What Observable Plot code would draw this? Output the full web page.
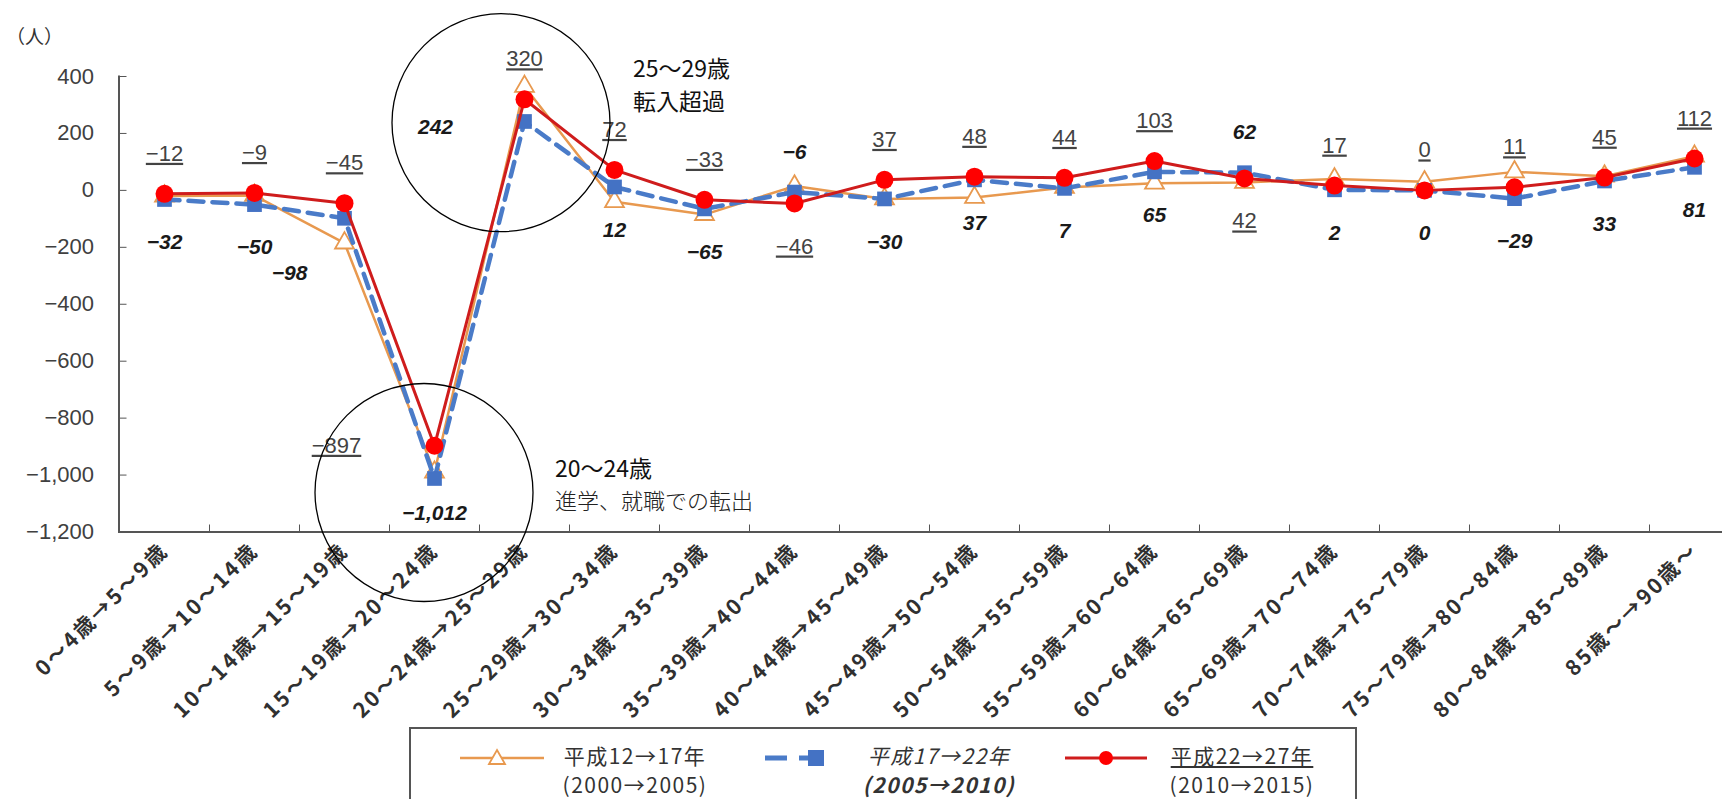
<!DOCTYPE html>
<html><head><meta charset="utf-8">
<script src="https://cdn.jsdelivr.net/npm/d3@7"></script>
<script src="https://cdn.jsdelivr.net/npm/@observablehq/plot@0.6"></script>
<style>
html,body{margin:0;padding:0;background:#fff;overflow:hidden;width:1722px;height:799px;}
#wrap{position:relative;width:1722px;height:799px;}
#unit{position:absolute;left:6px;top:22px;font:19px "Noto Sans CJK JP",sans-serif;color:#333;}
#legend{position:absolute;left:409px;top:727px;width:948px;height:110px;border:2px solid #555;box-sizing:border-box;font-family:"Noto Sans CJK JP",sans-serif;font-size:21px;color:#333;}
#legend .sw{position:absolute;top:14px;}
#legend .tx{position:absolute;top:12px;text-align:center;line-height:29px;letter-spacing:1.5px;white-space:nowrap;}
</style></head>
<body><div id="wrap"><div id="chart"></div><div id="unit">（人）</div>
<div id="legend">
  <svg class="sw" style="left:47px" width="88" height="30"><line x1="2" x2="86" y1="15" y2="15" stroke="#E8994F" stroke-width="2.5"/><polygon points="39,7 47,21 31,21" fill="#fff" stroke="#E8994F" stroke-width="1.8"/></svg>
  <div class="tx" style="left:134px;width:180px;"><div>平成12→17年</div><div>(2000→2005)</div></div>
  <svg class="sw" style="left:354px" width="74" height="30"><line x1="0" x2="60" y1="15" y2="15" stroke="#4A7BC8" stroke-width="5" stroke-dasharray="22,12"/><rect x="43" y="7" width="16" height="16" fill="#4472C4"/></svg>
  <div class="tx" style="left:438px;width:180px;font-style:italic;"><div>平成17→22年</div><div style="font-weight:bold">(2005→2010)</div></div>
  <svg class="sw" style="left:654px" width="84" height="30"><line x1="0" x2="82" y1="15" y2="15" stroke="#CF1C1C" stroke-width="3"/><circle cx="41" cy="15" r="7" fill="#FF0000"/></svg>
  <div class="tx" style="left:741px;width:180px;"><div style="text-decoration:underline">平成22→27年</div><div>(2010→2015)</div></div>
</div></div>
<script>
const categories = ["0～4歳→5～9歳","5～9歳→10～14歳","10～14歳→15～19歳","15～19歳→20～24歳","20～24歳→25～29歳","25～29歳→30～34歳","30～34歳→35～39歳","35～39歳→40～44歳","40～44歳→45～49歳","45～49歳→50～54歳","50～54歳→55～59歳","55～59歳→60～64歳","60～64歳→65～69歳","65～69歳→70～74歳","70～74歳→75～79歳","75～79歳→80～84歳","80～84歳→85～89歳","85歳～→90歳～"];
const s2000 = [-20,-18,-185,-990,365,-40,-85,15,-30,-25,10,25,28,40,30,65,50,120];
const s2005 = [-32,-50,-98,-1012,242,12,-65,-6,-30,37,7,65,62,2,0,-29,33,81];
const s2010 = [-12,-9,-45,-897,320,72,-33,-46,37,48,44,103,42,17,0,11,45,112];
const yTicks = [400,200,0,-200,-400,-600,-800,-1000,-1200];
const pos2005 = ["b","b","bl","b2","l2","b","b","a","b","b","b","b","a","b","b","b","b","b"];
const pos2010 = ["a","a","a","l","a","a","a","b","a","a","a","a","b","a","a","a","a","a"];

const rows = vals => vals.map((v,i)=>({cat: categories[i], v, i}));
const A = rows(s2000), B = rows(s2005), C = rows(s2010);
const fmt = d3.format(",");
const offsets = {a:[0,-40], b:[0,43], l:[-98,0], bl:[-55,55], b2:[0,35], l2:[-89,6]};
function labelMarks(data, posArr, opts) {
  return Object.keys(offsets).map(k => Plot.text(data.filter(d=>posArr[d.i]===k),
    {x:"cat", y:"v", text: d=>fmt(d.v), dx: offsets[k][0], dy: offsets[k][1], ...opts}));
}
const orange = "#E8994F", blue = "#4A7BC8", red = "#CF1C1C";
const step = 90, x0 = 163.5;
const chart = Plot.plot({
  width: 1722, height: 727,
  marginLeft: 118.5, marginRight: 0, marginTop: 76, marginBottom: 195.5,
  x: {type: "point", domain: categories, range: [x0, x0 + step*(categories.length-1)], padding: 0, axis: null},
  y: {domain: [-1200, 400], axis: null},
  style: {fontFamily: "'Liberation Sans', Arial, sans-serif", background: "white", overflow: "visible"},
  marks: [
    Plot.axisY({ticks: yTicks, label: null, tickSize: -8, tickPadding: 33, tickFormat: fmt, fontSize: 22, fill: "#404040", stroke: "#555"}),
    Plot.axisX({ticks: categories, label: null, tickSize: -7, tickFormat: () => "", dx: -step/2, stroke: "#555"}),
    Plot.frame({anchor: "left", stroke: "#555", strokeWidth: 2}),
    Plot.frame({anchor: "bottom", stroke: "#555", strokeWidth: 2}),
    Plot.text(categories, {x: d=>d, frameAnchor: "bottom", rotate: -45, textAnchor: "end", dx: 5, dy: 20, fontSize: 21, fontWeight: "bold", fill: "#303030", fontFamily: "'Noto Sans CJK JP', sans-serif"}),
    Plot.line(A, {x:"cat", y:"v", stroke: orange, strokeWidth: 2.5}),
    Plot.dot(A, {x:"cat", y:"v", symbol: "triangle", r: 7, stroke: orange, fill: "white", strokeWidth: 1.8}),
    Plot.line(B, {x:"cat", y:"v", stroke: blue, strokeWidth: 4.5, strokeDasharray: "15,9"}),
    Plot.dot(B, {x:"cat", y:"v", symbol: "square", r: 8.3, fill: "#4472C4", stroke: "none"}),
    Plot.line(C, {x:"cat", y:"v", stroke: red, strokeWidth: 3}),
    Plot.dot(C, {x:"cat", y:"v", r: 9, fill: "#FF0000", stroke: "none"}),
    ...labelMarks(C, pos2010, {fontSize: 22, fill: "#434343"}),
    ...labelMarks(B, pos2005, {fontSize: 21, fill: "#1a1a1a", fontStyle: "italic", fontWeight: "bold"}),
    Plot.dot([C[4]], {x:"cat", y:"v", r: 109, dx: -23.5, dy: 23.4, stroke: "black", fill: "none", strokeWidth: 1.3}),
    Plot.dot([B[3]], {x:"cat", y:"v", r: 109, dx: -10.5, dy: 14, stroke: "black", fill: "none", strokeWidth: 1.3}),
    Plot.text([C[4]], {x:"cat", y:"v", text: () => "25～29歳", dx: 108.5, dy: -30, textAnchor: "start", fontSize: 23, fill: "#111", fontFamily: "'Noto Sans CJK JP', sans-serif"}),
    Plot.text([C[4]], {x:"cat", y:"v", text: () => "転入超過", dx: 108.5, dy: 3, textAnchor: "start", fontSize: 23, fill: "#111", fontFamily: "'Noto Sans CJK JP', sans-serif"}),
    Plot.text([B[3]], {x:"cat", y:"v", text: () => "20～24歳", dx: 120.5, dy: -9, textAnchor: "start", fontSize: 23, fill: "#111", fontFamily: "'Noto Sans CJK JP', sans-serif"}),
    Plot.text([B[3]], {x:"cat", y:"v", text: () => "進学、就職での転出", dx: 120.5, dy: 23, textAnchor: "start", fontSize: 22, fill: "#222", fontWeight: "300", fontFamily: "'Noto Sans CJK JP', sans-serif"})
  ]
});
document.getElementById("chart").appendChild(chart);
const svg = d3.select(chart);
svg.selectAll('g[fill="#434343"] text').style("text-decoration", "underline");
svg.selectAll('g[fill="#303030"] text').style("letter-spacing", "2.5px");
</script></body></html>
